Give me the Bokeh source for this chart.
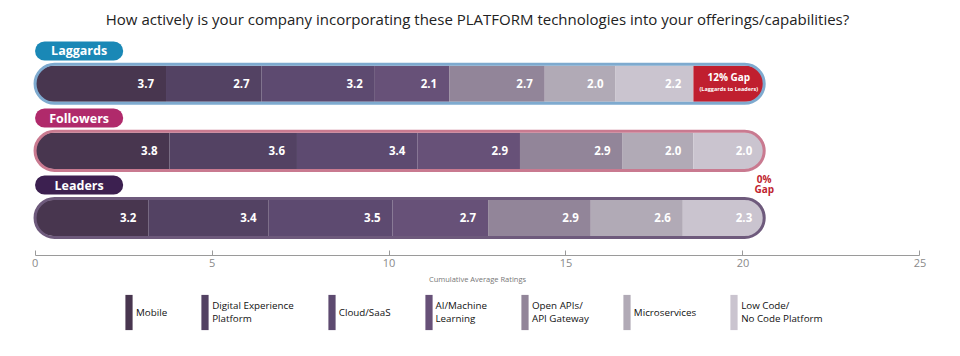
from bokeh.plotting import figure
from bokeh.layouts import column
from bokeh.models import ColumnDataSource, Legend, LegendItem, Range1d, FixedTicker
from bokeh.core.properties import value
from bokeh.embed import file_html
from bokeh.resources import INLINE

# ---------------- data ----------------
groups = ["Laggards", "Followers", "Leaders"]
group_pos = [2, 1, 0]
techs = ["Mobile", "Digital Experience\nPlatform", "Cloud/SaaS", "AI/Machine\nLearning",
         "Open APIs/\nAPI Gateway", "Microservices", "Low Code/\nNo Code Platform"]
mobile = [3.7, 3.8, 3.2]
dxp = [2.7, 3.6, 3.4]
cloud_saas = [3.2, 3.4, 3.5]
ai_ml = [2.1, 2.9, 2.7]
open_apis = [2.7, 2.9, 2.9]
microservices = [2.0, 2.0, 2.6]
low_code = [2.2, 2.0, 2.3]
gap_main = "12% Gap"
gap_sub = "(Laggards to Leaders)"
zero_gap = ["0%", "Gap"]
x_ticks = [0, 5, 10, 15, 20, 25]
title_text = "How actively is your company incorporating these PLATFORM technologies into your offerings/capabilities?"

series = [mobile, dxp, cloud_saas, ai_ml, open_apis, microservices, low_code]
tech_colors = ["#48364f", "#534263", "#5d4a70", "#675178", "#928599", "#b1aab6", "#cac4cf"]
pill_colors = ["#1a88b6", "#b02a6b", "#3c2050"]
outline_colors = ["#7eaacf", "#c97a90", "#6e5a7c"]
gap_red = "#c01f2f"

FONT = value("Open Sans")
SEG_H = 0.537     # bar fill height (data units)
OUT_H = 0.582     # outline height
PILL_H = 0.284
PILL_W = 2.49
PILL_DY = 0.49

p = figure(width=944, height=287, x_range=Range1d(-0.1, 25.1), y_range=Range1d(-0.56, 2.75),
           output_backend="svg", toolbar_location=None,
           min_border_left=31, min_border_right=21, min_border_top=33, min_border_bottom=32,
           y_axis_location=None)
p.xgrid.visible = False
p.ygrid.visible = False
p.outline_line_color = None

p.title.text = title_text
p.title.align = "center"
p.title.text_font = "Open Sans"
p.title.text_font_size = "15px"
p.title.text_font_style = "normal"
p.title.text_color = "#222222"
p.title.standoff = 10

# ---------------- stacked segments ----------------
cum = [0.0, 0.0, 0.0]
totals = [sum(s[i] for s in series) for i in range(3)]
for k, (vals, col) in enumerate(zip(series, tech_colors)):
    left = list(cum)
    right = [round(c + v, 2) for c, v in zip(cum, vals)]
    labels = [f"{v:.1f}" for v in vals]
    data = dict(y=group_pos, left=left, right=right, label=labels)
    src = ColumnDataSource(data)
    if k == 0:
        p.hbar(y="y", left="left", right="right", height=SEG_H, source=src,
               fill_color=col, line_color=None, border_radius=(18, 0, 0, 18))
    elif k == len(series) - 1:
        src_flat = ColumnDataSource({kk: vv[:1] for kk, vv in data.items()})
        src_round = ColumnDataSource({kk: vv[1:] for kk, vv in data.items()})
        p.hbar(y="y", left="left", right="right", height=SEG_H, source=src_flat,
               fill_color=col, line_color=None)
        p.hbar(y="y", left="left", right="right", height=SEG_H, source=src_round,
               fill_color=col, line_color=None, border_radius=(0, 18, 18, 0))
    else:
        p.hbar(y="y", left="left", right="right", height=SEG_H, source=src,
               fill_color=col, line_color=None)
    p.text(x="right", y="y", text="label", source=src, x_offset=-12,
           text_align="right", text_baseline="middle", text_color="white",
           text_font=FONT, text_font_style="bold", text_font_size="11.5px")
    cum = right

# ---------------- gap segment (Laggards to Leaders) ----------------
gap_src = ColumnDataSource(dict(y=[group_pos[0]], left=[totals[0]], right=[totals[2]],
                                xm=[(totals[0] + totals[2]) / 2]))
p.hbar(y="y", left="left", right="right", height=SEG_H, source=gap_src,
       fill_color=gap_red, line_color=None, border_radius=(0, 18, 18, 0))
p.text(x="xm", y="y", text=value(gap_main), source=gap_src, y_offset=-7,
       text_align="center", text_baseline="middle", text_color="white",
       text_font=FONT, text_font_style="bold", text_font_size="10px")
p.text(x="xm", y="y", text=value(gap_sub), source=gap_src, y_offset=5,
       text_align="center", text_baseline="middle", text_color="white",
       text_font=FONT, text_font_style="bold", text_font_size="5.5px")

# ---------------- outlines ----------------
out_right = [max(t, totals[2]) if i == 0 else t for i, t in enumerate(totals)]
out_src = ColumnDataSource(dict(y=group_pos, left=[0, 0, 0], right=out_right, col=outline_colors))
p.hbar(y="y", left="left", right="right", height=OUT_H, source=out_src,
       fill_color=None, line_color="col", line_width=3, border_radius=20)

# ---------------- zero gap label ----------------
zg_src = ColumnDataSource(dict(x=[totals[2]], y=[(group_pos[1] + group_pos[2]) / 2]))
p.text(x="x", y="y", text=value(zero_gap[0]), source=zg_src, y_offset=-5,
       text_align="center", text_baseline="middle", text_color=gap_red,
       text_font=FONT, text_font_style="bold", text_font_size="10px")
p.text(x="x", y="y", text=value(zero_gap[1]), source=zg_src, y_offset=5,
       text_align="center", text_baseline="middle", text_color=gap_red,
       text_font=FONT, text_font_style="bold", text_font_size="10px")

# ---------------- group pills ----------------
pill_src = ColumnDataSource(dict(y=[g + PILL_DY for g in group_pos], left=[0, 0, 0],
                                 right=[PILL_W] * 3, xm=[PILL_W / 2] * 3,
                                 col=pill_colors, name=groups))
p.hbar(y="y", left="left", right="right", height=PILL_H, source=pill_src,
       fill_color="col", line_color=None, border_radius=10)
p.text(x="xm", y="y", text="name", source=pill_src, text_align="center",
       text_baseline="middle", text_color="white", text_font=FONT,
       text_font_style="bold", text_font_size="12.5px")

# ---------------- axis ----------------
ax = p.xaxis[0]
ax.bounds = (0, 25)
ax.ticker = FixedTicker(ticks=x_ticks)
ax.axis_line_color = "#9a9a9a"
ax.major_tick_line_color = "#9a9a9a"
ax.major_tick_in = 5
ax.major_tick_out = 0
ax.minor_tick_line_color = None
ax.major_label_text_font = "Open Sans"
ax.major_label_text_font_size = "11px"
ax.major_label_text_color = "#8a8a8a"
ax.major_label_standoff = 3
ax.axis_label = "Cumulative Average Ratings"
ax.axis_label_text_font = "Open Sans"
ax.axis_label_text_font_size = "7.5px"
ax.axis_label_text_font_style = "normal"
ax.axis_label_text_color = "#777777"
ax.axis_label_standoff = 4

# ---------------- legend (own strip below the chart) ----------------
pl = figure(width=944, height=53, x_range=Range1d(0, 1), y_range=Range1d(0, 1),
            output_backend="svg", toolbar_location=None,
            min_border_left=0, min_border_right=0, min_border_top=0, min_border_bottom=0,
            x_axis_location=None, y_axis_location=None)
pl.xgrid.visible = False
pl.ygrid.visible = False
pl.outline_line_color = None
legend_items = []
for name, col in zip(techs, tech_colors):
    # swatch-only renderer, its single bar lies outside the strip's visible range
    r = pl.hbar(y=[-10], left=[0], right=[1], height=1, fill_color=col, line_color=None)
    legend_items.append(LegendItem(label=name, renderers=[r]))
legend = Legend(items=legend_items, orientation="horizontal", location=(93, 6),
                glyph_width=9, glyph_height=44, label_standoff=3, spacing=33,
                padding=4, margin=0, border_line_color=None, background_fill_alpha=0,
                label_text_font="Open Sans", label_text_font_size="9.8px",
                label_text_line_height=1.0, label_text_color="#111111")
pl.add_layout(legend, "center")

layout = column(p, pl, spacing=0)
open("out.html", "w").write(file_html(layout, INLINE))
